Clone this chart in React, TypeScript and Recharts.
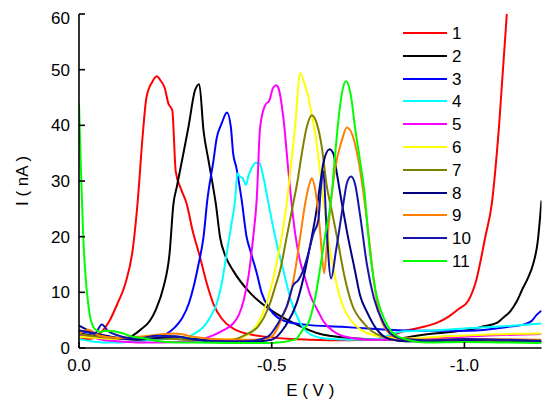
import { LineChart, Line, XAxis, YAxis, Legend } from 'recharts';

// [E (V), I (nA)] pairs
const curve1 = [
  [0, 1.9], [-0.02, 1.6], [-0.04, 1.8], [-0.06, 3.0], [-0.08, 5.0], [-0.1, 8.0],
  [-0.12, 11.5], [-0.14, 18], [-0.153, 26.9], [-0.165, 38], [-0.175, 45], [-0.19, 47.8],
  [-0.202, 48.8], [-0.212, 48.0], [-0.222, 46.8], [-0.232, 43.9], [-0.242, 42.7],
  [-0.251, 31.7], [-0.265, 28.5], [-0.279, 26.0], [-0.295, 21], [-0.314, 16.3],
  [-0.33, 12], [-0.349, 7.9], [-0.37, 5.3], [-0.4, 3.5], [-0.44, 2.5], [-0.487, 2.0],
  [-0.55, 1.6], [-0.65, 1.4], [-0.75, 1.5], [-0.8, 2.0], [-0.842, 3.0], [-0.9, 3.9],
  [-0.928, 4.5], [-0.958, 5.6], [-0.985, 7.0], [-1.01, 8.5], [-1.03, 12], [-1.054, 19.9],
  [-1.071, 25.9], [-1.09, 40], [-1.11, 60],
];
const curve2 = [
  [0, 2.6], [-0.03, 2.3], [-0.06, 2.2], [-0.09, 1.9], [-0.12, 1.7], [-0.141, 2.3],
  [-0.16, 3.3], [-0.184, 4.9], [-0.2, 7.0], [-0.219, 10.9], [-0.235, 17], [-0.245, 25.9],
  [-0.254, 29.0], [-0.269, 34.3], [-0.284, 39.7], [-0.301, 46.3], [-0.312, 47.4],
  [-0.323, 39.1], [-0.336, 33.7], [-0.349, 28.5], [-0.355, 25.9], [-0.366, 19.9],
  [-0.38, 16.5], [-0.4, 13.9], [-0.444, 9.9], [-0.496, 6.9], [-0.556, 4.5], [-0.617, 2.7],
  [-0.703, 1.8], [-0.8, 1.5], [-0.885, 2.3], [-0.95, 2.8], [-1.015, 3.3], [-1.05, 3.9],
  [-1.084, 4.5], [-1.1, 5.4], [-1.119, 6.6], [-1.136, 8.4], [-1.15, 10.5], [-1.165, 12.6],
  [-1.178, 15], [-1.19, 19], [-1.2, 26.5],
];
const curve3 = [
  [0, 3.0], [-0.04, 2.6], [-0.08, 2.0], [-0.12, 1.6], [-0.16, 1.6], [-0.2, 2.0],
  [-0.228, 2.6], [-0.25, 3.8], [-0.267, 5.3], [-0.285, 8.0], [-0.297, 10.9], [-0.31, 15],
  [-0.323, 19.9], [-0.333, 26.6], [-0.349, 33.7], [-0.357, 37.6], [-0.37, 40.3],
  [-0.384, 42.3], [-0.394, 39.7], [-0.4, 34.9], [-0.408, 32.5], [-0.422, 26.6],
  [-0.435, 19.9], [-0.444, 17.6], [-0.461, 13.5], [-0.474, 9.9], [-0.496, 6.9],
  [-0.535, 4.8], [-0.587, 4.2], [-0.682, 3.8], [-0.75, 3.5], [-0.829, 3.2], [-0.941, 3.1],
  [-1.015, 3.1], [-1.114, 3.8], [-1.153, 4.2], [-1.175, 4.9], [-1.188, 6.0], [-1.2, 6.7],
];
const curve4 = [
  [0, 1.6], [-0.03, 1.2], [-0.06, 1.0], [-0.1, 1.0], [-0.15, 1.2], [-0.2, 1.5],
  [-0.25, 1.8], [-0.28, 2.0], [-0.3, 2.6], [-0.323, 3.8], [-0.34, 5.5], [-0.357, 7.9],
  [-0.37, 11.5], [-0.383, 16.9], [-0.395, 22], [-0.405, 26.6], [-0.411, 31.4],
  [-0.417, 30.8], [-0.425, 30.5], [-0.433, 29.3], [-0.44, 31.0], [-0.448, 32.3],
  [-0.458, 33.3], [-0.468, 33.2], [-0.478, 30.8], [-0.491, 26.2], [-0.509, 20],
  [-0.53, 14], [-0.552, 8.1], [-0.574, 4.5], [-0.595, 2.7], [-0.638, 1.7], [-0.7, 1.5],
  [-0.78, 1.6], [-0.8, 2.2], [-0.842, 3.0], [-0.93, 3.2], [-1.015, 3.6], [-1.1, 3.9],
  [-1.2, 4.4],
];
const curve5 = [
  [0, 2.3], [-0.03, 2.0], [-0.06, 1.5], [-0.1, 1.2], [-0.15, 1.0], [-0.2, 1.0],
  [-0.25, 1.1], [-0.3, 1.3], [-0.349, 2.3], [-0.375, 3.2], [-0.4, 4.4], [-0.415, 6.0],
  [-0.427, 8.5], [-0.44, 13], [-0.452, 19.9], [-0.461, 26.6], [-0.47, 39.7],
  [-0.483, 43.6], [-0.494, 44.5], [-0.504, 46.8], [-0.512, 47.2], [-0.517, 46.8],
  [-0.53, 41.5], [-0.543, 32], [-0.55, 27], [-0.561, 20.5], [-0.574, 15.5],
  [-0.587, 12.5], [-0.6, 9.5], [-0.621, 6.5], [-0.634, 4.8], [-0.66, 3.0],
  [-0.686, 2.1], [-0.75, 1.5], [-0.85, 1.5], [-0.941, 1.8], [-1.05, 2.2], [-1.2, 2.5],
];
const curve6 = [
  [0, 2.0], [-0.05, 1.8], [-0.1, 1.6], [-0.15, 1.7], [-0.2, 1.9], [-0.25, 2.0],
  [-0.3, 1.8], [-0.35, 1.5], [-0.4, 1.6], [-0.44, 2.5], [-0.465, 4.5], [-0.487, 8.1],
  [-0.509, 14.0], [-0.526, 20.0], [-0.539, 26.0], [-0.548, 31.7], [-0.561, 40],
  [-0.574, 49.4], [-0.585, 47.5], [-0.595, 45.1], [-0.605, 41.5], [-0.613, 38.5],
  [-0.626, 31.4], [-0.636, 25.5], [-0.648, 19], [-0.665, 12.5], [-0.685, 7.5],
  [-0.703, 5.2], [-0.725, 3.6], [-0.747, 2.7], [-0.794, 2.0], [-0.85, 1.7],
  [-0.95, 2.1], [-1.05, 2.4], [-1.2, 2.6],
];
const curve7 = [
  [0, 2.5], [-0.05, 2.0], [-0.1, 1.7], [-0.15, 1.5], [-0.2, 1.7], [-0.25, 1.6],
  [-0.3, 1.4], [-0.35, 1.3], [-0.4, 1.5], [-0.43, 2.3], [-0.465, 3.9], [-0.48, 5.5],
  [-0.496, 8.1], [-0.509, 11], [-0.522, 14.0], [-0.539, 20], [-0.556, 26.0],
  [-0.567, 30], [-0.578, 34.9], [-0.591, 39.7], [-0.604, 41.8], [-0.617, 40.3],
  [-0.63, 36.1], [-0.643, 29.0], [-0.655, 25], [-0.672, 19], [-0.69, 12.5],
  [-0.708, 7.9], [-0.738, 4.5], [-0.76, 3.0], [-0.79, 2.0], [-0.85, 1.2], [-1.0, 1.2],
  [-1.2, 1.1],
];
const curve8 = [
  [0, 4.0], [-0.02, 3.3], [-0.04, 2.6], [-0.07, 2.2], [-0.1, 1.8], [-0.15, 1.5],
  [-0.2, 1.8], [-0.25, 2.0], [-0.3, 1.6], [-0.35, 1.3], [-0.4, 1.2], [-0.45, 1.2],
  [-0.5, 1.5], [-0.535, 3.9], [-0.565, 8.1], [-0.587, 14], [-0.604, 20], [-0.615, 24.2],
  [-0.626, 29.6], [-0.634, 33.2], [-0.65, 35.7], [-0.66, 34.9], [-0.669, 31.4],
  [-0.682, 26.0], [-0.695, 21.0], [-0.716, 13.9], [-0.729, 9.5], [-0.747, 6.5],
  [-0.773, 3.3], [-0.807, 1.6], [-0.85, 1.2], [-0.95, 1.3], [-1.05, 1.4], [-1.2, 1.2],
];
const curve9 = [
  [0, 2.6], [-0.025, 3.3], [-0.05, 2.3], [-0.1, 1.8], [-0.15, 2.0], [-0.206, 2.4],
  [-0.25, 2.6], [-0.3, 2.0], [-0.35, 1.6], [-0.4, 1.5], [-0.45, 1.5], [-0.491, 1.8],
  [-0.504, 2.3], [-0.517, 3.9], [-0.53, 6.0], [-0.543, 8.1], [-0.561, 14], [-0.574, 20],
  [-0.587, 26], [-0.598, 29.5], [-0.604, 30.5], [-0.613, 28.4], [-0.621, 24.2],
  [-0.626, 20.6], [-0.636, 13.4], [-0.644, 19.4], [-0.655, 27], [-0.664, 32.0],
  [-0.682, 37.3], [-0.695, 39.6], [-0.708, 38.5], [-0.725, 33.7], [-0.738, 27.8],
  [-0.751, 20.6], [-0.765, 12], [-0.78, 6], [-0.8, 3], [-0.83, 1.8], [-0.9, 1.5],
  [-1.0, 1.6], [-1.2, 1.5],
];
const curve10 = [
  [0, 3.2], [-0.02, 2.9], [-0.042, 2.7], [-0.059, 4.2], [-0.076, 3.0], [-0.1, 2.3],
  [-0.128, 1.8], [-0.16, 1.8], [-0.2, 2.2], [-0.25, 2.1], [-0.3, 1.5], [-0.35, 1.2],
  [-0.4, 1.2], [-0.45, 1.3], [-0.491, 2.1], [-0.517, 4.5], [-0.539, 7.5], [-0.556, 11.3],
  [-0.569, 12.2], [-0.582, 14], [-0.595, 17], [-0.608, 20.5], [-0.621, 23], [-0.628, 29],
  [-0.634, 31.8], [-0.642, 22], [-0.654, 12.5], [-0.667, 17.6], [-0.686, 26.0],
  [-0.695, 29.6], [-0.706, 30.8], [-0.716, 29.5], [-0.729, 24], [-0.747, 15],
  [-0.765, 9], [-0.79, 4.5], [-0.81, 2.5], [-0.84, 1.6], [-0.9, 1.4], [-1.0, 1.6],
  [-1.1, 1.5], [-1.2, 1.3],
];
const curve11 = [
  [0, 44], [-0.005, 32], [-0.011, 19.9], [-0.018, 12], [-0.024, 7.9], [-0.03, 5.2],
  [-0.037, 3.8], [-0.045, 3.2], [-0.055, 2.9], [-0.07, 3.1], [-0.09, 3.0], [-0.111, 2.7],
  [-0.14, 2.0], [-0.163, 1.8], [-0.206, 1.2], [-0.25, 1.0], [-0.3, 1.0], [-0.4, 0.9],
  [-0.5, 0.9], [-0.561, 1.5], [-0.58, 3.2], [-0.595, 4.5], [-0.608, 7.5], [-0.618, 11],
  [-0.626, 14.5], [-0.638, 19.9], [-0.656, 27.8], [-0.664, 34.3], [-0.673, 40.9],
  [-0.682, 45.7], [-0.693, 47.9], [-0.706, 45.1], [-0.716, 39.7], [-0.729, 33.7],
  [-0.741, 27.8], [-0.751, 19.9], [-0.768, 10.9], [-0.794, 4.9], [-0.829, 2.0],
  [-0.9, 1.0], [-1.0, 1.1], [-1.1, 1.0], [-1.2, 0.9],
];

const seriesNames = ['1', '2', '3', '4', '5', '6', '7', '8', '9', '10', '11'];
const seriesColors = [
  '#ff0000', '#000000', '#0000ff', '#00ffff', '#ff00ff', '#ffff00',
  '#808000', '#000080', '#ff8000', '#1414a8', '#00ff00',
];
const curves = [curve1, curve2, curve3, curve4, curve5, curve6, curve7, curve8, curve9, curve10, curve11];

const xTicks = [0, -0.5, -1.0];
const yTicks = [0, 10, 20, 30, 40, 50, 60];

const FONT = '"Liberation Sans", Arial, sans-serif';
const tickStyle = { fill: '#000', fontSize: 17, fontFamily: FONT };
const axisStroke = { stroke: '#000', strokeWidth: 1.6 };
const ROW = 22.8;

function LegendBox({ payload }: any) {
  // keep the series order (recharts sorts legend items by value otherwise)
  const items = [...(payload || [])].sort(
    (a: any, b: any) => seriesNames.indexOf(a.value) - seriesNames.indexOf(b.value),
  );
  return (
    <div style={{ position: 'relative', width: 80, height: items.length * ROW, fontFamily: FONT, fontSize: 17, color: '#000' }}>
      {items.map((p: any, i: number) => (
        <div
          key={p.value}
          style={{ position: 'absolute', left: 0, top: Math.round(i * ROW), height: 22, display: 'flex', alignItems: 'center' }}
        >
          <span style={{ display: 'inline-block', width: 44, height: 2, background: p.color }} />
          <span style={{ marginLeft: 5, lineHeight: '17px' }}>{p.value}</span>
        </div>
      ))}
    </div>
  );
}

export default function App() {
  return (
    <LineChart
      width={542}
      height={400}
      margin={{ top: 6, right: 8.5, bottom: 8, left: 0 }}
      style={{ fontFamily: FONT }}
    >
      <XAxis
        xAxisId="bottom"
        dataKey="e"
        type="number"
        domain={[-1.2, 0]}
        reversed
        allowDataOverflow
        ticks={xTicks}
        tickFormatter={(v: number) => v.toFixed(1)}
        tick={tickStyle}
        tickSize={-6}
        tickMargin={17}
        height={52}
        axisLine={axisStroke}
        tickLine={axisStroke}
        label={{ value: 'E ( V )', position: 'insideBottom', offset: 4, fill: '#000', fontSize: 17 }}
      />
      <XAxis
        xAxisId="top"
        orientation="top"
        type="number"
        domain={[-1.2, 0]}
        reversed
        allowDataOverflow
        ticks={xTicks}
        tick={false}
        tickSize={-6}
        height={0}
        axisLine={axisStroke}
        tickLine={axisStroke}
      />
      <YAxis
        yAxisId="left"
        type="number"
        domain={[0, 60]}
        allowDataOverflow
        ticks={yTicks}
        tick={tickStyle}
        tickSize={-6}
        tickMargin={15}
        width={71}
        axisLine={axisStroke}
        tickLine={axisStroke}
        label={{
          value: 'I ( nA )',
          angle: -90,
          position: 'insideLeft',
          offset: 14,
          fill: '#000',
          fontSize: 17,
          style: { textAnchor: 'middle' },
        }}
      />
      <YAxis
        yAxisId="right"
        orientation="right"
        type="number"
        domain={[0, 60]}
        allowDataOverflow
        ticks={yTicks}
        tick={false}
        tickSize={-6}
        width={0}
        axisLine={axisStroke}
        tickLine={axisStroke}
      />
      <Legend
        layout="vertical"
        align="center"
        verticalAlign="middle"
        content={<LegendBox />}
        wrapperStyle={{ top: 14, left: 395, width: 'auto', height: 'auto' }}
      />
      {curves.map((c, i) => (
        <Line
          key={seriesNames[i]}
          name={seriesNames[i]}
          xAxisId="bottom"
          yAxisId="left"
          data={c.map(([e, v]) => ({ e, v }))}
          dataKey="v"
          type="monotone"
          stroke={seriesColors[i]}
          strokeWidth={2}
          dot={false}
          activeDot={false}
          isAnimationActive={false}
        />
      ))}
    </LineChart>
  );
}
